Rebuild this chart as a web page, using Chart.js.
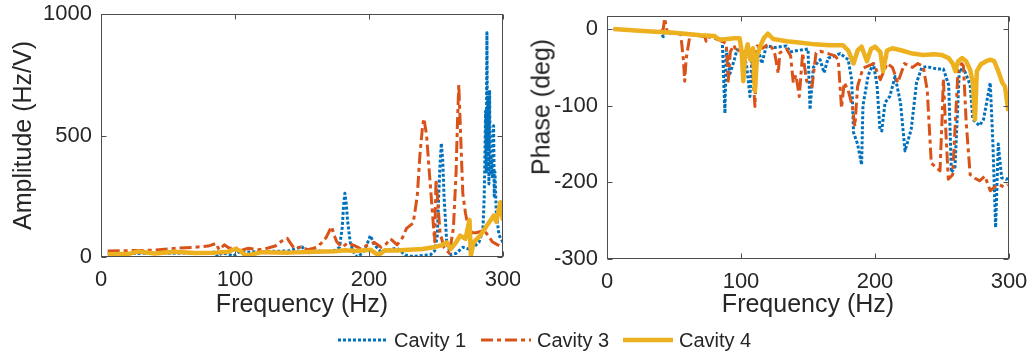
<!DOCTYPE html>
<html>
<head>
<meta charset="utf-8">
<script src="https://cdn.jsdelivr.net/npm/chart.js@4.4.1/dist/chart.umd.min.js"></script>
<style>
  body { margin: 0; background: #fff; }
  #wrap { position: relative; width: 1033px; height: 356px; font-family: "Liberation Sans", Arial, sans-serif; color: #262626; }
  #ampChart { position: absolute; left: 0; top: 0; }
  #phaseChart { position: absolute; left: 520px; top: 0; }
  #phaseTitle { position: absolute; left: 541px; top: 107px; transform: translate(-50%, -50%) rotate(-90deg); font-size: 25px; white-space: nowrap; }
  .legend-item { position: absolute; top: 328px; height: 24px; display: flex; align-items: center; font-size: 20px; white-space: nowrap; }
  .legend-item canvas { margin-right: 6px; }
</style>
</head>
<body>
<div id="wrap">
  <canvas id="ampChart" width="520" height="330"></canvas>
  <canvas id="phaseChart" width="513" height="330"></canvas>
  <div id="phaseTitle">Phase (deg)</div>
  <div class="legend-item" style="left:338px"><canvas width="50" height="20" data-series="0"></canvas>Cavity 1</div>
  <div class="legend-item" style="left:481px"><canvas width="50" height="20" data-series="1"></canvas>Cavity 3</div>
  <div class="legend-item" style="left:623px"><canvas width="50" height="20" data-series="2"></canvas>Cavity 4</div>
</div>
<script>
// frequency response of three cavities: amplitude and phase vs frequency

const freqTicks = [0, 100, 200, 300];
const ampTicks = [0, 500, 1000];
const phaseTicks = [-300, -200, -100, 0];

// amplitude (Hz/V)
const amp1Freq = [5, 30, 60, 80, 85, 87, 90, 95, 99, 103, 120, 140, 150, 154, 160, 170, 175, 178, 180, 181,
  182, 183, 184, 186, 188, 191, 195, 198, 201, 204, 209, 215, 221, 227, 233, 240, 246, 249, 251, 252,
  253, 254, 255, 256, 258, 261, 265, 270, 276, 282, 285, 286, 287, 287.5, 288, 288.5, 289, 289.5, 290, 290.5,
  291, 292, 292.5, 293, 293.5, 294, 295, 297, 300];
const amp1 = [14, 15, 16, 18, 20, 2, 16, 12, 4, 20, 22, 25, 42, 15, 25, 22, 28, 40, 120, 210,
  262, 220, 150, 60, 25, 0, 15, 45, 88, 50, 21, 30, 37, 8, 2, 6, 10, 25, 90, 250,
  380, 468, 400, 250, 60, 10, 15, 40, 30, 60, 110, 250, 600, 350, 923, 450, 650, 300, 687, 350,
  420, 330, 500, 540, 250, 350, 180, 90, 60];

const amp3Freq = [5, 20, 40, 56, 70, 80, 86, 88, 92, 96, 100, 103, 110, 118, 124, 130, 136, 139, 141, 144,
  150, 154, 158, 161, 165, 168, 172, 174, 176, 180, 184, 190, 194, 199, 204, 209, 213, 216, 221, 225,
  228, 233, 236, 238, 240, 241, 243, 245, 247, 249, 250, 251, 253, 256, 260, 263, 265, 266, 267, 268,
  270, 272, 274, 277, 280, 286, 292, 296, 300];
const amp3 = [25, 26, 28, 36, 40, 45, 56, 30, 50, 35, 42, 25, 36, 30, 36, 45, 70, 77, 60, 36,
  42, 30, 35, 40, 60, 80, 125, 90, 62, 40, 58, 45, 33, 50, 60, 40, 55, 75, 50, 80,
  118, 140, 250, 420, 540, 570, 500, 350, 207, 63, 317, 250, 100, 40, 15, 120, 350, 550, 708, 560,
  262, 180, 125, 100, 100, 110, 63, 50, 42];

const amp4Freq = [5, 20, 28, 40, 55, 70, 85, 95, 100, 104, 108, 120, 140, 160, 175, 182, 190, 201, 207, 212,
  220, 230, 240, 248, 254, 258, 261, 265, 268, 272, 275, 276, 278, 283, 288, 293, 295, 298, 300];
const amp4 = [11, 12, 23, 14, 22, 16, 18, 22, 33, 25, 5, 20, 18, 22, 24, 28, 25, 30, 8, 28,
  27, 30, 33, 40, 48, 60, 33, 60, 88, 75, 152, 5, 60, 88, 130, 170, 145, 225, 150];

// phase (deg)
const phase1Freq = [5, 30, 40, 42, 43, 45, 60, 80, 86, 88, 89, 91.8, 95, 97, 100, 104, 106.7, 108, 113, 115.5,
  119, 125, 134, 136.6, 142, 150, 151.5, 154, 159, 162, 165, 170, 174, 180, 182.6, 184, 187, 190, 191, 195,
  198.8, 201.5, 203.7, 205, 207.5, 211, 215, 219, 222.4, 227, 231, 235, 238.5, 246, 251, 255, 257, 259.7, 263, 267,
  271, 273, 278, 281, 286, 288, 290, 292, 294.5, 298, 300];
const phase1 = [0, -3, -4, -10, -5, -5, -7, -10, -14, -110, -27, -58, -40, -27, -30, -45, -88, -40, -27, -45,
  -22, -24, -22, -30, -28, -26, -105, -50, -40, -57, -38, -35, -32, -40, -66, -135, -150, -177, -100, -60,
  -45, -73, -131, -133, -96, -88, -62, -96, -159, -131, -70, -50, -49, -52, -52, -73, -187, -180, -52, -55,
  -73, -118, -126, -118, -70, -150, -259, -150, -194, -196, -194];

const phase3Freq = [5, 30, 40, 42, 43, 45, 55, 57, 58, 59, 62, 70, 73, 74, 75, 80, 86, 89, 90.5, 92,
  94.5, 97, 100, 103, 106, 108, 110.4, 112, 116, 120, 123, 125, 127.8, 129, 134, 137, 139, 141, 143.5, 146,
  149, 153, 156, 159, 165, 170, 172.6, 175, 177, 180, 183, 185, 187, 191, 195, 199, 204, 209, 213, 217,
  222, 228, 232, 236, 239, 242, 246, 248.5, 250, 251, 252.5, 254.7, 258, 260, 262, 264.7, 266, 268, 271, 275,
  278, 282, 286, 290, 293, 296, 299];
const phase3 = [0, -3, -4, 0, 14, -4, -6, -40, -68, -40, -7, -9, -10, -16, -10, -12, -16, -19, -68, -30,
  -21, -30, -25, -40, -28, -35, -101, -22, -25, -20, -24, -30, -58, -31, -26, -35, -70, -60, -88, -31,
  -68, -75, -31, -29, -32, -35, -40, -103, -70, -80, -100, -127, -75, -51, -48, -45, -66, -45, -50, -70,
  -45, -50, -45, -49, -80, -175, -181, -185, -120, -65, -120, -196, -190, -120, -53, -45, -48, -120, -190, -195,
  -198, -192, -211, -205, -203, -206, -203];

const phase4Freq = [5, 30, 50, 70, 80, 84, 90, 95, 99, 100.5, 101.7, 103, 105, 107, 109, 110.4, 112, 115, 117, 120,
  124, 134, 145, 155, 166, 176, 180, 184, 187, 190, 194, 197, 200, 204, 206, 209, 213, 220, 228, 236,
  244, 250, 255, 258, 260, 262, 265, 268, 271, 273, 274.6, 276, 279, 283, 286, 289, 292, 295, 297, 299.5];
const phase4 = [0, -3, -5, -8, -9, -14, -13, -12, -12, -30, -68, -35, -20, -40, -25, -81, -35, -20, -12, -6,
  -13, -16, -18, -20, -21, -21, -28, -45, -28, -23, -42, -26, -23, -30, -55, -28, -25, -28, -32, -34,
  -33, -34, -38, -45, -55, -42, -38, -42, -53, -70, -118, -55, -46, -42, -40, -42, -55, -70, -75, -107];

const seriesLabels = ['Cavity 1', 'Cavity 3', 'Cavity 4'];

const styles = [
  { color: '#0072BD', width: 3, dash: [3, 2], order: 2 },
  { color: '#D95319', width: 3, dash: [12, 4, 4, 4], order: 1 },
  { color: '#EDB120', width: 4.5, dash: [], order: 0 }
];

const FONT = '"Liberation Sans", Arial, sans-serif';
const INK = '#262626';
Chart.defaults.font.family = FONT;
Chart.defaults.color = INK;

function toPoints(xs, ys) {
  return xs.map((x, i) => ({ x: x, y: ys[i] }));
}

function makeDataset(i, xs, ys) {
  const s = styles[i];
  return {
    label: seriesLabels[i],
    data: toPoints(xs, ys),
    borderColor: s.color,
    backgroundColor: s.color,
    borderWidth: s.width,
    borderDash: s.dash,
    borderCapStyle: 'butt',
    borderJoinStyle: 'round',
    pointRadius: 0,
    tension: 0,
    fill: false,
    order: s.order
  };
}

// box around the plot area with tick marks pointing inward on all four sides
const axesBox = {
  id: 'axesBox',
  afterDraw(chart) {
    const { ctx, chartArea: a, scales: { x, y } } = chart;
    ctx.save();
    ctx.strokeStyle = '#4d4d4d';
    ctx.lineWidth = 1;
    const l = Math.round(a.left) + 0.5, r = Math.round(a.right) - 0.5;
    const t = Math.round(a.top) + 0.5, b = Math.round(a.bottom) - 0.5;
    ctx.strokeRect(l, t, r - l, b - t);
    ctx.beginPath();
    x.ticks.forEach(tk => {
      const px = Math.round(x.getPixelForValue(tk.value)) + 0.5;
      ctx.moveTo(px, b); ctx.lineTo(px, b - 5);
      ctx.moveTo(px, t); ctx.lineTo(px, t + 5);
    });
    y.ticks.forEach(tk => {
      const py = Math.round(y.getPixelForValue(tk.value)) + 0.5;
      ctx.moveTo(l, py); ctx.lineTo(l + 5, py);
      ctx.moveTo(r, py); ctx.lineTo(r - 5, py);
    });
    ctx.stroke();
    ctx.restore();
  }
};

function setTicks(values) {
  return scale => { scale.ticks = values.map(v => ({ value: v })); };
}

function makeChart(id, datasets, opts) {
  return new Chart(document.getElementById(id), {
    type: 'line',
    data: { datasets: datasets },
    options: {
      responsive: false,
      animation: false,
      layout: { padding: { top: opts.top, right: opts.right, left: 0, bottom: 0 } },
      plugins: { legend: { display: false }, tooltip: { enabled: false } },
      scales: {
        x: {
          type: 'linear',
          min: 0,
          max: 300,
          afterBuildTicks: setTicks(freqTicks),
          // fixed axis height; tick labels may overhang the plot edges
          afterFit: scale => { scale.height = opts.xHeight; scale.paddingLeft = 0; scale.paddingRight = 0; },
          grid: { display: false, drawTicks: false },
          border: { display: false },
          ticks: { font: { size: 22 }, padding: 10, maxRotation: 0, callback: v => String(v) },
          title: { display: true, text: 'Frequency (Hz)', font: { size: 25 }, padding: { top: 0, bottom: 10 } }
        },
        y: {
          type: 'linear',
          min: opts.yMin,
          max: opts.yMax,
          afterBuildTicks: setTicks(opts.yTicks),
          afterFit: scale => { scale.width = opts.yWidth; scale.paddingTop = 0; scale.paddingBottom = 0; },
          grid: { display: false, drawTicks: false },
          border: { display: false },
          ticks: { font: { size: 22 }, padding: 9, callback: v => String(v) },
          title: { display: !!opts.yTitle, text: opts.yTitle, font: { size: 25 }, padding: { top: 9, bottom: 0 } }
        }
      }
    },
    plugins: [axesBox]
  });
}

makeChart('ampChart', [
  makeDataset(0, amp1Freq, amp1),
  makeDataset(1, amp3Freq, amp3),
  makeDataset(2, amp4Freq, amp4)
], { top: 14, right: 17, xHeight: 73, yWidth: 101, yMin: 0, yMax: 1000, yTicks: ampTicks, yTitle: 'Amplitude (Hz/V)' });

makeChart('phaseChart', [
  makeDataset(0, phase1Freq, phase1),
  makeDataset(1, phase3Freq, phase3),
  makeDataset(2, phase4Freq, phase4)
], { top: 16, right: 24, xHeight: 71, yWidth: 87, yMin: -300, yMax: 17, yTicks: phaseTicks, yTitle: '' });

// legend swatches share the series styles
document.querySelectorAll('.legend-item canvas').forEach(c => {
  const s = styles[+c.dataset.series];
  const g = c.getContext('2d');
  g.strokeStyle = s.color;
  g.lineWidth = s.width;
  g.setLineDash(s.dash);
  g.beginPath();
  g.moveTo(0, c.height / 2);
  g.lineTo(c.width, c.height / 2);
  g.stroke();
});
</script>
</body>
</html>
